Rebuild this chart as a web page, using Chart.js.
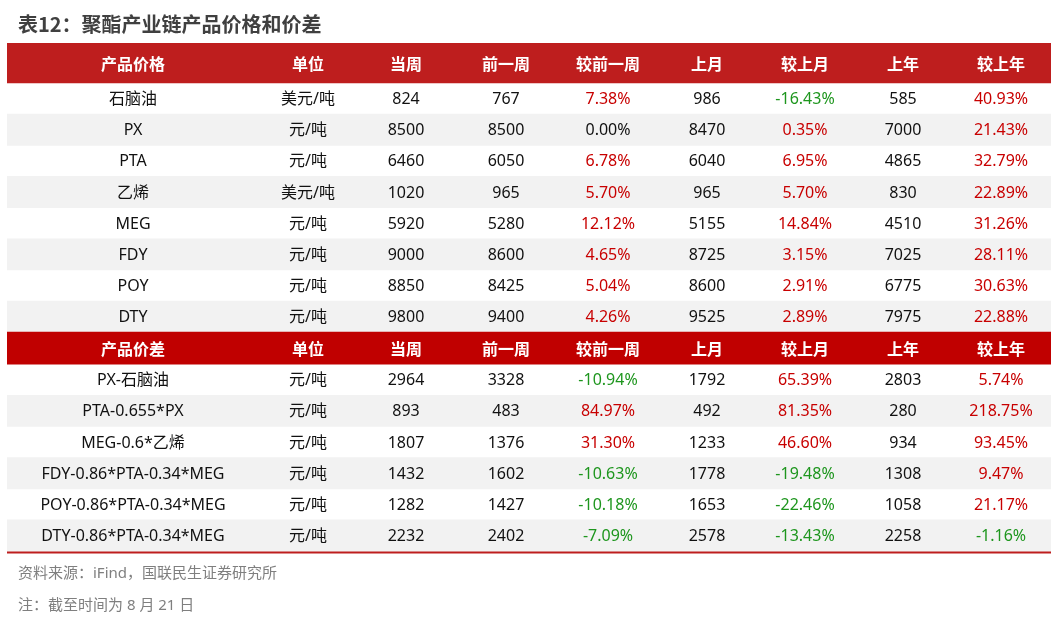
<!DOCTYPE html>
<html lang="zh">
<head>
  <meta charset="UTF-8">
  <title>聚酯产业链产品价格和价差</title>
  <script src="https://cdn.jsdelivr.net/npm/chart.js"></script>
  <style>
    html, body { margin: 0; padding: 0; background: #fff; }
    canvas { display: block; }
  </style>
</head>
<body>
  <canvas id="tableChart" width="1059" height="622"></canvas>
  <script>
    // column headers
    const headerCols = ['单位', '当周', '前一周', '较前一周', '上月', '较上月', '上年', '较上年'];

    // product prices
    const priceItems = ['石脑油', 'PX', 'PTA', '乙烯', 'MEG', 'FDY', 'POY', 'DTY'];
    const priceUnits = ['美元/吨', '元/吨', '元/吨', '美元/吨', '元/吨', '元/吨', '元/吨', '元/吨'];
    const priceThisWeek = [824, 8500, 6460, 1020, 5920, 9000, 8850, 9800];
    const pricePrevWeek = [767, 8500, 6050, 965, 5280, 8600, 8425, 9400];
    const priceVsPrevWeek = [7.38, 0.00, 6.78, 5.70, 12.12, 4.65, 5.04, 4.26];
    const priceLastMonth = [986, 8470, 6040, 965, 5155, 8725, 8600, 9525];
    const priceVsLastMonth = [-16.43, 0.35, 6.95, 5.70, 14.84, 3.15, 2.91, 2.89];
    const priceLastYear = [585, 7000, 4865, 830, 4510, 7025, 6775, 7975];
    const priceVsLastYear = [40.93, 21.43, 32.79, 22.89, 31.26, 28.11, 30.63, 22.88];

    // product spreads
    const spreadItems = ['PX-石脑油', 'PTA-0.655*PX', 'MEG-0.6*乙烯', 'FDY-0.86*PTA-0.34*MEG', 'POY-0.86*PTA-0.34*MEG', 'DTY-0.86*PTA-0.34*MEG'];
    const spreadUnits = ['元/吨', '元/吨', '元/吨', '元/吨', '元/吨', '元/吨'];
    const spreadThisWeek = [2964, 893, 1807, 1432, 1282, 2232];
    const spreadPrevWeek = [3328, 483, 1376, 1602, 1427, 2402];
    const spreadVsPrevWeek = [-10.94, 84.97, 31.30, -10.63, -10.18, -7.09];
    const spreadLastMonth = [1792, 492, 1233, 1778, 1653, 2578];
    const spreadVsLastMonth = [65.39, 81.35, 46.60, -19.48, -22.46, -13.43];
    const spreadLastYear = [2803, 280, 934, 1308, 1058, 2258];
    const spreadVsLastYear = [5.74, 218.75, 93.45, 9.47, 21.17, -1.16];

    const titleText = '表12：聚酯产业链产品价格和价差';
    const sourceText = '资料来源：iFind，国联民生证券研究所';
    const noteText = '注：截至时间为 8 月 21 日';

    // layout (table frame units)
    const tableW = 1044;
    const colCenters = [126, 301, 399, 499, 601, 700, 798, 896, 994];
    const head1H = 40, head2H = 32, rowH = 31.15, ruleH = 2.5;
    const RED1 = '#BE1E1E', RED2 = '#C00000', UP = '#C80000', DOWN = '#1E961E';

    const pct = v => v.toFixed(2) + '%';
    const pctColor = v => v > 0 ? UP : (v < 0 ? DOWN : '#111');

    // build rows
    const rows = [];
    let yPos = 0;
    const addRow = (type, h, cells) => {
      rows.push({ type, y: yPos + h / 2, h, cells });
      yPos += h;
    };
    const addBlock = (items, units, tw, pw, vpw, lm, vlm, ly, vly) => {
      items.forEach((name, i) => {
        addRow(i % 2 === 1 ? 'stripe' : 'plain', rowH, [
          { t: name }, { t: units[i] },
          { t: String(tw[i]) }, { t: String(pw[i]) },
          { t: pct(vpw[i]), c: pctColor(vpw[i]) },
          { t: String(lm[i]) },
          { t: pct(vlm[i]), c: pctColor(vlm[i]) },
          { t: String(ly[i]) },
          { t: pct(vly[i]), c: pctColor(vly[i]) }
        ]);
      });
    };
    addRow('head1', head1H, ['产品价格'].concat(headerCols).map(t => ({ t })));
    addBlock(priceItems, priceUnits, priceThisWeek, pricePrevWeek, priceVsPrevWeek,
      priceLastMonth, priceVsLastMonth, priceLastYear, priceVsLastYear);
    addRow('head2', head2H, ['产品价差'].concat(headerCols).map(t => ({ t })));
    addBlock(spreadItems, spreadUnits, spreadThisWeek, spreadPrevWeek, spreadVsPrevWeek,
      spreadLastMonth, spreadVsLastMonth, spreadLastYear, spreadVsLastYear);
    const tableH = yPos;

    const bandsOf = type => rows.filter(r => r.type === type).map(r => ({ x: [0, tableW], y: r.y }));
    const band = (data, thickness, color) => ({
      data, barThickness: thickness, backgroundColor: color,
      borderWidth: 0, grouped: false
    });

    // draws cell texts, title and notes
    const tableText = {
      id: 'tableText',
      afterDatasetsDraw(chart) {
        const { ctx, scales: { x, y } } = chart;
        ctx.save();
        ctx.textAlign = 'center';
        ctx.textBaseline = 'middle';
        rows.forEach(r => {
          const head = r.type === 'head1' || r.type === 'head2';
          ctx.font = head ? 'bold 16px "Noto Sans CJK SC", "Noto Sans", sans-serif'
                          : '16px "Noto Sans", "Noto Sans CJK SC", sans-serif';
          r.cells.forEach((cell, c) => {
            ctx.fillStyle = head ? '#fff' : (cell.c || '#111');
            ctx.fillText(cell.t, x.getPixelForValue(colCenters[c]), y.getPixelForValue(r.y) + 1);
          });
        });
        ctx.textAlign = 'left';
        ctx.fillStyle = '#404040';
        ctx.font = 'bold 20px "Noto Sans CJK SC", sans-serif';
        ctx.fillText(titleText, 18, 24);
        ctx.fillStyle = '#7F7F7F';
        ctx.font = '15px "Noto Sans", "Noto Sans CJK SC", sans-serif';
        ctx.fillText(sourceText, 18, 574);
        ctx.fillText(noteText, 18, 606);
        ctx.restore();
      }
    };

    const tableTop = 43;
    new Chart(document.getElementById('tableChart'), {
      type: 'bar',
      data: {
        datasets: [
          band(bandsOf('head1'), head1H, RED1),
          band(bandsOf('head2'), head2H, RED2),
          band(bandsOf('stripe'), rowH, '#F2F2F2'),
          band([{ x: [0, tableW], y: tableH + ruleH / 2 }], ruleH, RED1)
        ]
      },
      options: {
        indexAxis: 'y',
        responsive: false,
        animation: false,
        layout: { padding: { left: 7, right: 8, top: tableTop, bottom: 622 - tableTop - tableH - ruleH } },
        scales: {
          x: { type: 'linear', min: 0, max: tableW, offset: false, display: false },
          y: { type: 'linear', min: 0, max: tableH + ruleH, reverse: true, offset: false, display: false }
        },
        plugins: {
          legend: { display: false },
          tooltip: { enabled: false }
        }
      },
      plugins: [tableText]
    });
  </script>
</body>
</html>
